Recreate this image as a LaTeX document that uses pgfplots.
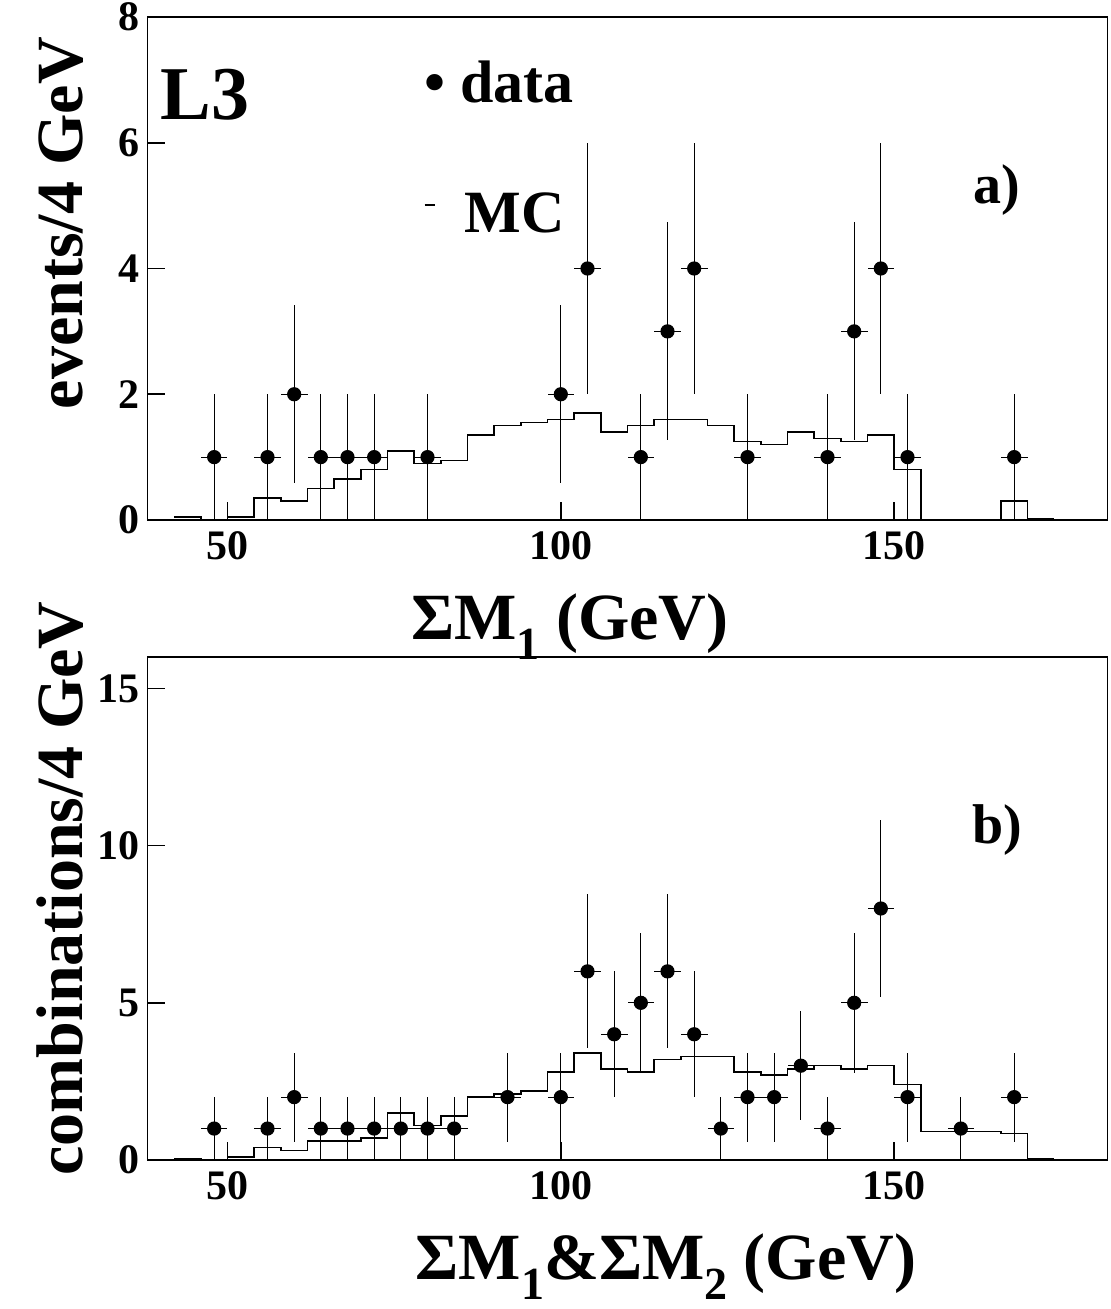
\documentclass[border=0pt]{standalone}
\usepackage{pgfplots}
\pgfplotsset{compat=1.18}
\usepackage{fontspec}
\setmainfont{Liberation Serif}
\newcommand{\sub}[1]{\raisebox{-0.3em}{\fontsize{46}{46}\selectfont #1}}
\begin{document}
\pgfplotsset{common/.style={
  scale only axis, width=960pt, height=503pt,
  xmin=38, xmax=182,
  xtick={50,100,150}, xtick pos=bottom, ytick pos=left,
  tick align=inside, major tick length=18pt, minor tick num=0,
  /pgf/number format/assume math mode=true,
  tick label style={font=\fontsize{42}{42}\selectfont\bfseries},
  xticklabel style={yshift=-8pt},
  yticklabel style={xshift=-4pt},
  label style={font=\fontsize{66}{66}\selectfont\bfseries},
  axis line style={line width=1.6pt}, every tick/.style={line width=1.6pt,black},
  clip=false,
}}
\begin{tikzpicture}
\path[use as bounding box] (-145pt,-149pt) rectangle (963pt,1160pt);
\begin{axis}[common, at={(0pt,640pt)}, ymin=0, ymax=8, ytick={0,2,4,6,8},
  ylabel={events/4 GeV}, ylabel style={at={(rel axis cs:0,0.59)}, anchor=south, xshift=0pt, yshift=60pt},
  xlabel={ΣM\sub{1} (GeV)}, xlabel style={at={(rel axis cs:0.44,0)}, anchor=north, yshift=-70pt}]
\addplot[const plot mark left, line width=1.4pt, black] coordinates {
(42,0.05)(46,0)(50,0.05)(54,0.35)(58,0.3)(62,0.5)(66,0.65)(70,0.8)(74,1.1)(78,0.9)(82,0.95)(86,1.35)(90,1.5)(94,1.55)(98,1.6)(102,1.7)(106,1.4)(110,1.5)(114,1.6)(118,1.6)(122,1.5)(126,1.25)(130,1.2)(134,1.4)(138,1.3)(142,1.25)(146,1.35)(150,0.8)(154,0)(158,0)(162,0)(166,0.3)(170,0.02)(174,0.02)};
\addplot[only marks, mark=*, mark size=6.5pt, black, line width=1.2pt,
  error bars/.cd, x dir=both, x explicit, y dir=both, y explicit, error bar style={line width=1.2pt}, error mark=none]
 coordinates {
(48,1) +- (2,1)
(56,1) +- (2,1)
(60,2) +- (2,1.414)
(64,1) +- (2,1)
(68,1) +- (2,1)
(72,1) +- (2,1)
(80,1) +- (2,1)
(100,2) +- (2,1.414)
(104,4) +- (2,2)
(112,1) +- (2,1)
(116,3) +- (2,1.732)
(120,4) +- (2,2)
(128,1) +- (2,1)
(140,1) +- (2,1)
(144,3) +- (2,1.732)
(148,4) +- (2,2)
(152,1) +- (2,1)
(168,1) +- (2,1)};
\node[font=\fontsize{76}{76}\selectfont\bfseries] at (rel axis cs:0.06,0.845) {L3};
\node[font=\fontsize{60}{60}\selectfont\bfseries, anchor=west] at (rel axis cs:0.285,0.87) {• data};
\node[font=\fontsize{60}{60}\selectfont\bfseries, anchor=west] at (rel axis cs:0.285,0.61) {\raisebox{0.45em}{\rule{10pt}{1.6pt}}\ \ MC};
\node[font=\fontsize{56}{56}\selectfont\bfseries] at (rel axis cs:0.885,0.655) {a)};
\end{axis}
\begin{axis}[common, at={(0pt,0pt)}, ymin=0, ymax=16, ytick={0,5,10,15},
  ylabel={combinations/4 GeV}, ylabel style={at={(rel axis cs:0,0.54)}, anchor=south, yshift=60pt},
  xlabel={ΣM\sub{1}\&ΣM\sub{2} (GeV)}, xlabel style={at={(rel axis cs:0.54,0)}, anchor=north, yshift=-70pt}]
\addplot[const plot mark left, line width=1.4pt, black] coordinates {
(42,0.05)(46,0)(50,0.1)(54,0.4)(58,0.3)(62,0.6)(66,0.6)(70,0.7)(74,1.5)(78,1.1)(82,1.4)(86,2.0)(90,2.1)(94,2.2)(98,2.8)(102,3.4)(106,2.9)(110,2.8)(114,3.2)(118,3.3)(122,3.3)(126,2.8)(130,2.7)(134,2.9)(138,3.0)(142,2.9)(146,3.0)(150,2.4)(154,0.9)(158,0.9)(162,0.9)(166,0.85)(170,0.05)(174,0.05)};
\addplot[only marks, mark=*, mark size=6.5pt, black, line width=1.2pt,
  error bars/.cd, x dir=both, x explicit, y dir=both, y explicit, error bar style={line width=1.2pt}, error mark=none]
 coordinates {
(48,1) +- (2,1)
(56,1) +- (2,1)
(60,2) +- (2,1.414)
(64,1) +- (2,1)
(68,1) +- (2,1)
(72,1) +- (2,1)
(76,1) +- (2,1)
(80,1) +- (2,1)
(84,1) +- (2,1)
(92,2) +- (2,1.414)
(100,2) +- (2,1.414)
(104,6) +- (2,2.449)
(108,4) +- (2,2)
(112,5) +- (2,2.236)
(116,6) +- (2,2.449)
(120,4) +- (2,2)
(124,1) +- (2,1)
(128,2) +- (2,1.414)
(132,2) +- (2,1.414)
(136,3) +- (2,1.732)
(140,1) +- (2,1)
(144,5) +- (2,2.236)
(148,8) +- (2,2.828)
(152,2) +- (2,1.414)
(160,1) +- (2,1)
(168,2) +- (2,1.414)};
\node[font=\fontsize{56}{56}\selectfont\bfseries] at (rel axis cs:0.885,0.656) {b)};
\end{axis}
\end{tikzpicture}
\end{document}
